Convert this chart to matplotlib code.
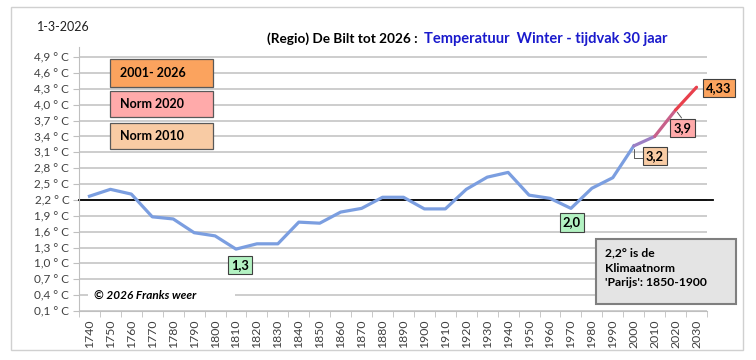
import matplotlib.pyplot as plt
from matplotlib.patches import Rectangle

plt.rcParams['font.family'] = ['Lato', 'DejaVu Sans']

years = list(range(1740, 2040, 10))
temps = [2.27, 2.40, 2.31, 1.88, 1.84, 1.58, 1.52, 1.27, 1.37, 1.37,
         1.78, 1.76, 1.97, 2.04, 2.25, 2.25, 2.03, 2.03, 2.40, 2.63,
         2.72, 2.29, 2.23, 2.04, 2.42, 2.62, 3.22, 3.40, 3.90, 4.33]
paris_norm = 2.2
y_ticks = [0.1, 0.4, 0.7, 1.0, 1.3, 1.6, 1.9, 2.2, 2.5, 2.8, 3.1, 3.4, 3.7, 4.0, 4.3, 4.6, 4.9]

legend_names = ["2001- 2026", "Norm 2020", "Norm 2010"]
legend_colors = ["#fba35e", "#ffaaaa", "#f8cba4"]

# data labels: (year, text, colour, offset in px)
point_labels = [(1810, "1,3", "#b3f2c2", (4, -16)),
                (1970, "2,0", "#b3f2c2", (1, -14)),
                (2000, "3,2", "#f8cba4", (21, -10)),
                (2020, "3,9", "#ffaaaa", (7, -18)),
                (2030, "4,33", "#fba35e", (22, -1))]

blue = "#7b9ee0"
end_colors = ["#9c7fc4", "#c8608a", "#e8404c"]

W, H = 756, 360


def fig_xy(x, y):
    return x / W, 1 - y / H


fig = plt.figure(figsize=(W / 100, H / 100), dpi=100)
ax = fig.add_axes([79 / W, 1 - 311 / H, 628 / W, 264.5 / H])

idx = list(range(len(years)))
n_blue = 27
ax.plot(idx[:n_blue], temps[:n_blue], color=blue, lw=2.3, solid_joinstyle='round', zorder=3)
for k, c in enumerate(end_colors):
    i = n_blue - 1 + k
    ax.plot(idx[i:i + 2], temps[i:i + 2], color=c, lw=2.3, solid_capstyle='round', zorder=3)

ax.plot([-0.5, 29.8], [paris_norm, paris_norm], color='black', lw=1.3, clip_on=False, zorder=2)

ax.set_xlim(-0.5, 29.5)
ax.set_ylim(0.1, 5.1)
ax.set_yticks(y_ticks)
ax.set_yticklabels([f"{v:.1f}".replace(".", ",") + " \u00b0 C" for v in y_ticks],
                   fontsize=8.5, color="#404040")
ax.set_xticks(idx)
ax.set_xticklabels([str(y) for y in years], rotation=90, fontsize=8.8, color="#404040")
ax.set_xticks([i - 0.5 for i in range(len(years) + 1)], minor=True)
ax.tick_params(axis='x', which='major', length=0, pad=6)
ax.tick_params(axis='x', which='minor', length=4, color="#bfbfbf")
ax.tick_params(axis='y', length=4, color="#bfbfbf", pad=3)
ax.grid(axis='y', color="#c0c0c0", lw=1.1, zorder=0)
ax.set_axisbelow(True)
for s in ['top', 'right']:
    ax.spines[s].set_visible(False)
for s in ['left', 'bottom']:
    ax.spines[s].set_color("#bfbfbf")

for year, text, col, off in point_labels:
    i = years.index(year)
    ax.annotate(text, (i, temps[i]), xytext=off, textcoords='offset pixels',
                ha='center', va='center', fontsize=9.3, fontweight='bold', zorder=5,
                bbox=dict(boxstyle='square,pad=0.25', fc=col, ec="#404040", lw=0.8))

# leader lines for 3,2 and 3,9
i = years.index(2000)
ax.annotate("", (i, temps[i]), xytext=(9, -12), textcoords='offset pixels',
            arrowprops=dict(arrowstyle='-', color="#595959", lw=0.7, shrinkA=0, shrinkB=2,
                            connectionstyle='angle,angleA=0,angleB=90,rad=0'))
i = years.index(2020)
ax.annotate("", (i, temps[i]), xytext=(6, -8), textcoords='offset pixels',
            arrowprops=dict(arrowstyle='-', color="#595959", lw=0.7, shrinkA=0, shrinkB=2))

# copyright with white background over the grid
ax.add_patch(Rectangle((-0.06, 0.31), 7.0, 0.18, fc='white', ec='none', zorder=1))
ax.text(0.2, 0.4, "\u00a9 2026 Franks weer", fontsize=8.5, fontweight='bold',
        fontstyle='italic', va='center', zorder=2)

# legend boxes
boxes_y = [(59, 87), (91, 117), (123, 149)]
for name, col, (y0, y1) in zip(legend_names, legend_colors, boxes_y):
    x0, yb = fig_xy(110, y1)
    fig.add_artist(Rectangle((x0, yb), 103 / W, (y1 - y0) / H, transform=fig.transFigure,
                             fc=col, ec="#595959", lw=0.9))
    tx, ty = fig_xy(120, (y0 + y1) / 2)
    fig.text(tx, ty, name, fontsize=9, fontweight='bold', va='center')

# Paris norm note
x0, yb = fig_xy(596, 304)
fig.add_artist(Rectangle((x0, yb), 140 / W, 65 / H, transform=fig.transFigure,
                         fc="#e4e4e4", ec="#7f7f7f", lw=1.5))
for line, yy in zip(["2,2\u00b0 is de", "Klimaatnorm", "'Parijs': 1850-1900"], [253, 268, 283]):
    tx, ty = fig_xy(605, yy)
    fig.text(tx, ty, line, fontsize=8.7, fontweight='bold', va='center')

# titles
tx, ty = fig_xy(37, 27)
fig.text(tx, ty, "1-3-2026", fontsize=9, va='center', color="#202020")
tx, ty = fig_xy(421, 39)
fig.text(tx, ty, "(Regio) De Bilt tot 2026 : ", fontsize=9.8, fontweight='bold', ha='right', va='center')
tx, ty = fig_xy(424, 39)
fig.text(tx, ty, "Temperatuur  Winter - tijdvak 30 jaar", fontsize=10.5, fontweight='bold',
         color="#1a1acc", ha='left', va='center')

# outer frame
fig.add_artist(Rectangle((11 / W, 1 - 350 / H), 732 / W, 343 / H, transform=fig.transFigure,
                         fc='none', ec="#d0d0d0", lw=1.0))

fig.savefig("out.png", dpi=100)
